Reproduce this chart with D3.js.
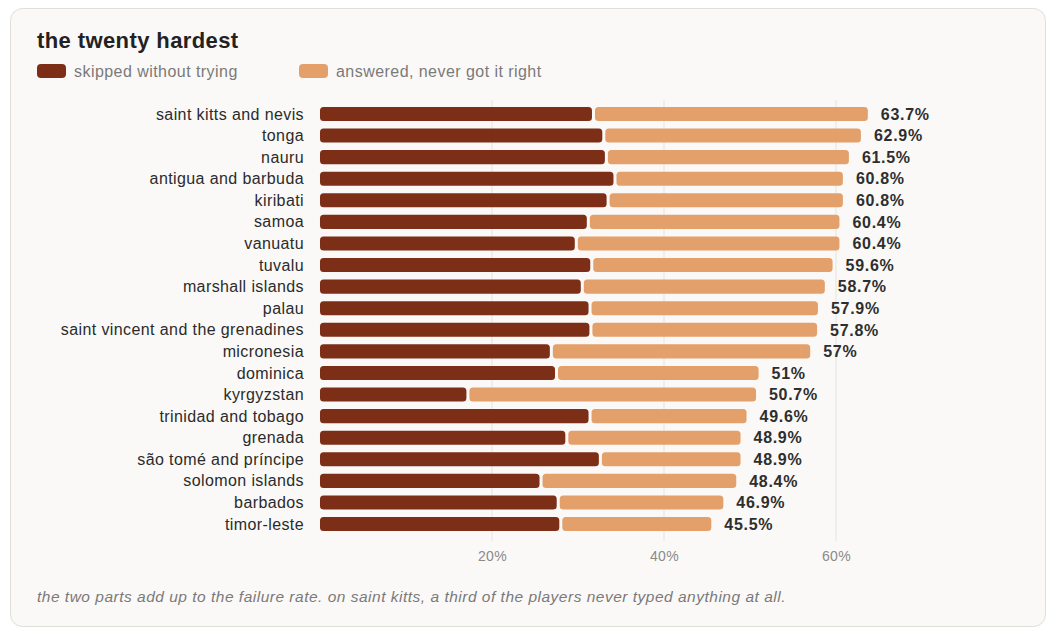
<!DOCTYPE html>
<html>
<head>
<meta charset="utf-8">
<script src="https://cdn.jsdelivr.net/npm/d3@7"></script>
<style>
  html, body { margin: 0; padding: 0; background: #fff; }
  body { width: 1064px; height: 634px; overflow: hidden; }
  svg { display: block; font-family: "Helvetica Neue", Helvetica, Arial, "Liberation Sans", sans-serif; }
</style>
</head>
<body>
<div id="chart"></div>
<script>
// country order as shown, top to bottom
const countries = [
  "saint kitts and nevis", "tonga", "nauru", "antigua and barbuda", "kiribati",
  "samoa", "vanuatu", "tuvalu", "marshall islands", "palau",
  "saint vincent and the grenadines", "micronesia", "dominica", "kyrgyzstan",
  "trinidad and tobago", "grenada", "são tomé and príncipe", "solomon islands",
  "barbados", "timor-leste"
];
// share of players who skipped without trying (%)
const skipped = [31.8, 33.0, 33.3, 34.3, 33.5, 31.2, 29.8, 31.6, 30.5, 31.4,
                 31.5, 26.9, 27.5, 17.2, 31.4, 28.7, 32.6, 25.7, 27.7, 28.0];
// total failure rate (%), skipped + answered wrong
const failed = [63.7, 62.9, 61.5, 60.8, 60.8, 60.4, 60.4, 59.6, 58.7, 57.9,
                57.8, 57, 51, 50.7, 49.6, 48.9, 48.9, 48.4, 46.9, 45.5];
const xTicks = [20, 40, 60];
const legendLabels = ["skipped without trying", "answered, never got it right"];

const W = 1064, H = 634;
const dark = "#7d2e17", light = "#e3a06b";

let svg = d3.select("#chart").append("svg")
    .attr("width", W)
    .attr("height", H);

// card
svg.append("rect")
    .attr("x", 10.5).attr("y", 8.5)
    .attr("width", 1035).attr("height", 618)
    .attr("rx", 12)
    .attr("fill", "#faf9f7")
    .attr("stroke", "#e0dedb");

svg.append("text")
    .attr("x", 37).attr("y", 48)
    .attr("font-size", 22).attr("font-weight", 700)
    .attr("letter-spacing", 0.4)
    .attr("fill", "#222")
    .text("the twenty hardest");

// legend
let legend = svg.selectAll(".legend")
    .data(legendLabels)
    .enter().append("g")
    .attr("class", "legend")
    .attr("transform", function(d, i) { return "translate(" + (37 + i * 262) + ",64)"; });

legend.append("rect")
    .attr("width", 29).attr("height", 14).attr("rx", 4)
    .attr("fill", function(d, i) { return i === 0 ? dark : light; });

legend.append("text")
    .attr("x", 37).attr("y", 12.5)
    .attr("font-size", 16).attr("letter-spacing", 0.45)
    .attr("fill", "#7a7a7a")
    .text(function(d) { return d; });

let xScale = d3.scaleLinear().domain([0, 60]).range([320, 836]);
let yScale = d3.scaleBand().domain(countries).range([99.4, 538.6]).padding(0.35);

// gridlines
svg.append("g").attr("class", "grid")
    .selectAll("line")
    .data(xTicks)
    .enter().append("line")
    .attr("x1", function(d) { return xScale(d); })
    .attr("x2", function(d) { return xScale(d); })
    .attr("y1", 100).attr("y2", 541)
    .attr("stroke", "#e6e3df").attr("stroke-width", 1);

// x axis labels
let xAxis = d3.axisBottom(xScale)
    .tickValues(xTicks)
    .tickSize(0)
    .tickPadding(0)
    .tickFormat(function(d) { return d + "%"; });

let xAxis_g = svg.append("g")
    .attr("class", "x axis")
    .attr("transform", "translate(0,551)")
    .call(xAxis);
xAxis_g.select(".domain").remove();
xAxis_g.selectAll("text")
    .attr("font-size", 14)
    .attr("letter-spacing", 0.4)
    .attr("font-family", null)
    .attr("fill", "#8a8a8a");

// category labels
svg.append("g").selectAll("text")
    .data(countries)
    .enter().append("text")
    .attr("x", 304)
    .attr("y", function(d) { return yScale(d) + yScale.bandwidth() / 2; })
    .attr("dy", "0.35em")
    .attr("text-anchor", "end")
    .attr("font-size", 16).attr("letter-spacing", 0.4)
    .attr("fill", "#2b2b2b")
    .text(function(d) { return d; });

let rows = svg.append("g").selectAll(".row")
    .data(countries)
    .enter().append("g")
    .attr("class", "row")
    .attr("transform", function(d) { return "translate(0," + yScale(d) + ")"; });

// skipped segment
rows.append("rect")
    .attr("x", xScale(0))
    .attr("width", function(d, i) { return xScale(skipped[i]) - xScale(0) - 1.5; })
    .attr("height", yScale.bandwidth())
    .attr("rx", 3.5)
    .attr("fill", dark);

// answered-but-wrong segment
rows.append("rect")
    .attr("x", function(d, i) { return xScale(skipped[i]) + 1.5; })
    .attr("width", function(d, i) { return xScale(failed[i]) - xScale(skipped[i]) - 1.5; })
    .attr("height", yScale.bandwidth())
    .attr("rx", 3.5)
    .attr("fill", light);

// total labels
rows.append("text")
    .attr("x", function(d, i) { return xScale(failed[i]) + 13; })
    .attr("y", yScale.bandwidth() / 2)
    .attr("dy", "0.36em")
    .attr("font-size", 16).attr("font-weight", 700)
    .attr("letter-spacing", 0.7)
    .attr("fill", "#2e2e2e")
    .text(function(d, i) { return failed[i] + "%"; });

svg.append("text")
    .attr("x", 37).attr("y", 602)
    .attr("font-size", 15.5).attr("font-style", "italic")
    .attr("letter-spacing", 0.5)
    .attr("fill", "#7a7a7a")
    .text("the two parts add up to the failure rate. on saint kitts, a third of the players never typed anything at all.");
</script>
</body>
</html>
